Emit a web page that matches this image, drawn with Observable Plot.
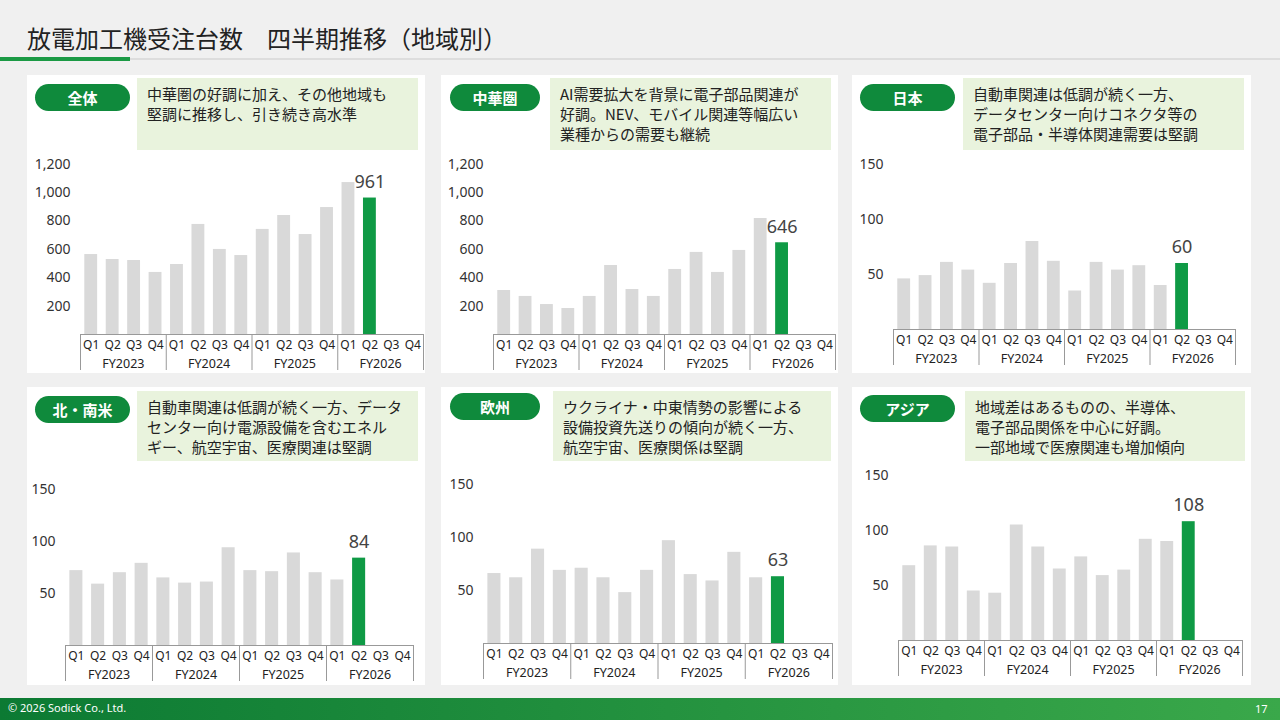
<!DOCTYPE html>
<html><head><meta charset="utf-8">
<script src="https://cdn.jsdelivr.net/npm/d3@7"></script>
<script src="https://cdn.jsdelivr.net/npm/@observablehq/plot@0.6"></script>
<style>
body{margin:0;width:1280px;height:720px;background:#f0f0f0;position:relative;overflow:hidden;font-family:"Noto Sans CJK JP","Noto Sans",sans-serif;}
.card{position:absolute;background:#fff;}
.pill{position:absolute;background:#0f8a3c;color:#fff;font-size:15px;font-weight:bold;border-radius:14px;text-align:center;line-height:27px;height:27px;}
.cap{position:absolute;background:#e9f3dd;color:#222;font-size:15px;line-height:20px;padding:6px 10px;box-sizing:border-box;}
.chart{position:absolute;}
</style></head><body>
<div style="position:absolute;left:27px;top:20px;font-size:24px;color:#222;">放電加工機受注台数　四半期推移（地域別）</div>
<div style="position:absolute;left:0;top:58px;width:1280px;height:2px;background:#ddd;"></div>
<div style="position:absolute;left:0;top:57px;width:130px;height:4px;background:#1b9a45;"></div>
<div style="position:absolute;left:0;top:698px;width:1280px;height:22px;background:linear-gradient(90deg,#0c7a33,#3aa84a);"></div>
<div style="position:absolute;left:8px;top:700px;font-size:11px;color:#fff;font-family:'Noto Sans';">© 2026 Sodick Co., Ltd.</div>
<div style="position:absolute;left:1255px;top:701px;font-size:11px;color:#fff;font-family:'Noto Sans';">17</div>
<script>
const quarters = ["Q1","Q2","Q3","Q4"];
const years = ["FY2023","FY2024","FY2025","FY2026"];
const allValues   = [563,528,521,437, 493,775,599,556, 740,838,704,894, 1070,961];
const chinaValues = [310,268,211,183, 268,486,317,268, 458,578,437,592, 817,646];
const japanValues = [46,49,61,54, 42,60,80,62, 35,61,54,58, 40,60];
const americasValues = [72,59,70,79, 65,60,61,94, 72,71,89,70, 63,84];
const europeValues = [66,62,89,69, 71,62,48,69, 97,65,59,86, 62,63];
const asiaValues  = [68,86,85,45, 43,105,85,65, 76,59,64,92, 90,108];
const titles = ["全体","中華圏","日本","北・南米","欧州","アジア"];
const captions = [
 "中華圏の好調に加え、その他地域も<br>堅調に推移し、引き続き高水準",
 "AI需要拡大を背景に電子部品関連が<br>好調。NEV、モバイル関連等幅広い<br>業種からの需要も継続",
 "自動車関連は低調が続く一方、<br>データセンター向けコネクタ等の<br>電子部品・半導体関連需要は堅調",
 "自動車関連は低調が続く一方、データ<br>センター向け電源設備を含むエネル<br>ギー、航空宇宙、医療関連は堅調",
 "ウクライナ・中東情勢の影響による<br>設備投資先送りの傾向が続く一方、<br>航空宇宙、医療関係は堅調",
 "地域差はあるものの、半導体、<br>電子部品関係を中心に好調。<br>一部地域で医療関連も増加傾向"];
const seriesList = [allValues, chinaValues, japanValues, americasValues, europeValues, asiaValues];
const tickSets = [[200,400,600,800,1000,1200],[200,400,600,800,1000,1200],[50,100,150],[50,100,150],[50,100,150],[50,100,150]];

const L = [
 {cx:27,cy:75,cw:398,px:35,pw:95,py:84,capx:137,capy:78,capw:281,caph:72,tl:80,tr:423,zero:334,ppu:0.142,max:1300,svgTop:145},
 {cx:441,cy:75,cw:397,px:450,pw:90,py:84,capx:550,capy:78,capw:281,caph:72,tl:493,tr:835,zero:334,ppu:0.142,max:1300,svgTop:145},
 {cx:852,cy:75,cw:399,px:860,pw:95,py:84,capx:963,capy:78,capw:281,caph:72,tl:893,tr:1235,zero:329,ppu:1.1,max:160,svgTop:150},
 {cx:27,cy:387,cw:398,px:35,pw:95,py:396,capx:137,capy:391,capw:281,caph:70,tl:65,tr:413,zero:645,ppu:1.04,max:160,svgTop:470},
 {cx:441,cy:387,cw:397,px:450,pw:90,py:393,capx:553,capy:391,capw:278,caph:70,tl:483,tr:832,zero:643,ppu:1.06,max:160,svgTop:465},
 {cx:852,cy:387,cw:399,px:860,pw:95,py:395,capx:965,capy:391,capw:280,caph:70,tl:898,tr:1242,zero:640,ppu:1.1,max:160,svgTop:455}];

const slots = years.flatMap((y,yi)=>quarters.map((q,qi)=>({i:yi*4+qi,q,y})));
const fyLabels = years.map((y,yi)=>({x:yi*4+2,y}));
const bounds = [0,4,8,12,16];

L.forEach((l,k)=>{
  const card=document.createElement("div");card.className="card";
  Object.assign(card.style,{left:l.cx+"px",top:l.cy+"px",width:l.cw+"px",height:"298px"});
  document.body.appendChild(card);
  const pill=document.createElement("div");pill.className="pill";pill.textContent=titles[k];
  Object.assign(pill.style,{left:l.px+"px",top:l.py+"px",width:l.pw+"px"});document.body.appendChild(pill);
  const cap=document.createElement("div");cap.className="cap";cap.innerHTML=captions[k];
  Object.assign(cap.style,{left:l.capx+"px",top:l.capy+"px",width:l.capw+"px",height:l.caph+"px"});document.body.appendChild(cap);

  const vals=seriesList[k];
  const data=vals.map((v,i)=>({i,v,last:i===vals.length-1}));
  const bottom=l.cy+298;
  const height=bottom-l.svgTop;
  const marginTop=l.zero-l.max*l.ppu-l.svgTop;
  const marginBottom=bottom-l.zero;
  const width=l.cw;
  const marginLeft=l.tl-l.cx, marginRight=l.cx+l.cw-l.tr;
  const depth=36/l.ppu, qRow=11/l.ppu, fyRow=29/l.ppu;
  const lastD=data[data.length-1];
  const p=Plot.plot({
    width,height,marginTop,marginBottom,marginLeft,marginRight,
    style:{fontFamily:"'Noto Sans',sans-serif",fontSize:"13px",color:"#333",overflow:"visible"},
    x:{type:"linear",domain:[0,16],axis:null},
    y:{domain:[0,l.max],axis:null},
    marks:[
      Plot.rectY(data,{x1:d=>d.i+0.2,x2:d=>d.i+0.8,y:"v",fill:d=>d.last?"#0f9a45":"#d9d9d9"}),
      Plot.text(tickSets[k],{x:0,y:d=>d,text:d=>d3.format(",")(d),textAnchor:"end",dx:-10,fill:"#333",fontSize:14}),
      Plot.ruleY([0],{x1:0,x2:16,stroke:"#999",strokeWidth:1}),
      Plot.ruleX(bounds,{y1:0,y2:-depth,stroke:"#999",strokeWidth:1}),
      Plot.text(slots,{x:d=>d.i+0.5,y:-qRow,text:"q",fontSize:12,fill:"#222"}),
      Plot.text(fyLabels,{x:"x",y:-fyRow,text:"y",fontSize:12.5,fill:"#222",letterSpacing:"0.5px"}),
      Plot.text([lastD],{x:d=>d.i+0.5,y:"v",text:d=>String(d.v),dy:-16,fontSize:18,fill:"#444"})
    ]});
  p.classList.add("chart");
  Object.assign(p.style,{left:l.cx+"px",top:l.svgTop+"px"});
  document.body.appendChild(p);
});
</script>
</body></html>
